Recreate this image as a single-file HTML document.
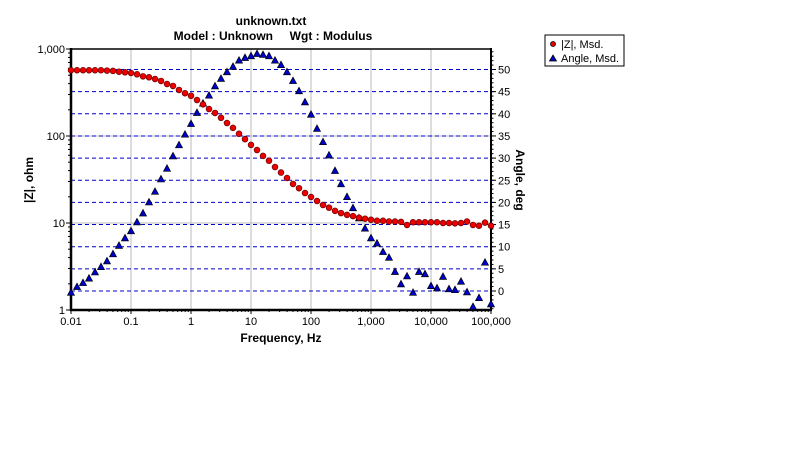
<!DOCTYPE html>
<html><head><meta charset="utf-8"><style>
body{margin:0;background:#fff;width:806px;height:449px;overflow:hidden}
svg{font-family:"Liberation Sans",Arial,sans-serif}
</style></head><body>
<svg id="chart" width="806" height="449" viewBox="0 0 806 449">
<text x="271" y="25" text-anchor="middle" font-size="12" font-weight="bold">unknown.txt</text>
<text x="273" y="40" text-anchor="middle" font-size="12" font-weight="bold" xml:space="preserve">Model : Unknown     Wgt : Modulus</text>
<g id="grid"></g><g id="axes"></g><g id="marks"></g>
<text x="281" y="342" text-anchor="middle" font-size="12" font-weight="bold">Frequency,  Hz</text>
<text transform="translate(33,180) rotate(-90)" text-anchor="middle" font-size="12" font-weight="bold">|Z|, ohm</text>
<text transform="translate(516,180) rotate(90)" text-anchor="middle" font-size="12" font-weight="bold">Angle,  deg</text>
<g>
<rect x="545" y="35" width="79" height="31" fill="#fff" stroke="#000" stroke-width="1"/>
<circle cx="553" cy="44" r="2.5" fill="#e00" stroke="#000" stroke-width="0.8"/>
<text x="561" y="48" font-size="11">|Z|,  Msd.</text>
<polygon points="549.5,61 553,55 556.5,61" fill="#00c" stroke="#000" stroke-width="0.8"/>
<text x="561" y="62" font-size="11">Angle,  Msd.</text>
</g>
</svg>
<script>
const freqExpStart = -2;
const pointsPerDecade = 10;
const zMod = [570,570,570,570,570,570,565,560,548,540,530,512,485,473,452,429,396,376,338,310,290,259,231,204,184,162,141,124,106,92,79,69,59,52,44,38,32.9,28.1,25.1,22.1,19.9,17.9,16.1,15.0,13.8,13.0,12.4,12.0,11.5,11.2,10.9,10.6,10.6,10.4,10.4,10.3,9.5,10.2,10.2,10.2,10.2,10.2,10.0,10.0,9.9,10.0,10.4,9.5,9.3,10.1,9.3];
const angle = [-0.3,1.0,1.9,2.9,4.3,5.5,6.8,8.4,10.3,12.0,13.6,15.6,17.6,20.1,22.5,25.3,27.7,30.5,33.0,35.4,37.8,40.3,42.4,44.2,46.3,48.0,49.5,50.7,52.1,52.7,53.1,53.6,53.4,53.1,52.1,51.1,49.5,47.5,45.2,42.7,39.9,36.7,33.7,30.7,27.2,24.2,21.3,18.8,16.5,14.2,12.0,10.8,8.9,7.6,4.4,1.6,3.4,-0.3,4.4,3.9,1.2,0.7,3.3,0.5,0.3,2.2,-0.2,-3.5,-1.5,6.5,-2.9];
const xTickLabels = ["0.01","0.1","1","10","100","1,000","10,000","100,000"];
const yTickLabels = ["1","10","100","1,000"];
const angleTicks = [0,5,10,15,20,25,30,35,40,45,50];

const L=71,R=491,T=49,B=310;
const NS="http://www.w3.org/2000/svg";
function X(logf){return L+(logf-(-2))*60;}
function Y(z){return B-Math.log10(z)*87;}
function YA(a){return 291-a*4.43;}
function mk(tag,attrs,parent,txt){const e=document.createElementNS(NS,tag);for(const k in attrs)e.setAttribute(k,attrs[k]);if(txt!==undefined)e.textContent=txt;parent.appendChild(e);return e;}
const grid=document.getElementById('grid'),axes=document.getElementById('axes'),marks=document.getElementById('marks');

xTickLabels.forEach((lab,i)=>{
  const x=X(-2+i);
  if(i>0&&i<7){const g=mk('line',{x1:x,x2:x,y1:T,y2:B,stroke:'#bbb','stroke-width':1},grid);
  
  }
  const t=mk('text',{x:x,y:B+15,'text-anchor':'middle','font-size':11},axes,lab);
  
  
  mk('line',{x1:x,x2:x,y1:B,y2:B+4,stroke:'#000'},axes);
  if(i<7)for(let m=2;m<10;m++){const xm=x+Math.log10(m)*60;mk('line',{x1:xm,x2:xm,y1:B,y2:B+2,stroke:'#000'},axes);}
});
yTickLabels.forEach((lab,i)=>{
  const y=Y(Math.pow(10,i));
  if(i>0&&i<3){const g=mk('line',{x1:L,x2:R,y1:y,y2:y,stroke:'#bbb','stroke-width':1},grid);
  
  }
  const t=mk('text',{x:L-6,y:y+4,'text-anchor':'end','font-size':11},axes,lab);
  
  
  mk('line',{x1:L-5,x2:L,y1:y,y2:y,stroke:'#000'},axes);
  if(i<3)for(let m=2;m<10;m++){const ym=y-Math.log10(m)*87;mk('line',{x1:L-3,x2:L,y1:ym,y2:ym,stroke:'#000'},axes);}
});
angleTicks.forEach(a=>{
  const y=YA(a);
  const g=mk('line',{x1:L,x2:R,y1:y,y2:y,stroke:'#00c','stroke-width':1,'stroke-dasharray':'4,3'},grid);
  
  
  mk('line',{x1:R,x2:R+5,y1:y,y2:y,stroke:'#000'},axes);
  const t=mk('text',{x:R+7,y:y+4,'font-size':11},axes,String(a));
  
  
});
for(let a=-4;a<=54;a++){const y=YA(a);mk('line',{x1:R,x2:R+2.5,y1:y,y2:y,stroke:'#000'},axes);}
mk('line',{x1:L,x2:R,y1:T,y2:T,stroke:'#000','stroke-width':1.5},axes);
mk('line',{x1:L,x2:L,y1:T-1,y2:B+1,stroke:'#000','stroke-width':2.5},axes);
mk('line',{x1:L-1,x2:R,y1:B,y2:B,stroke:'#000','stroke-width':2.5},axes);
mk('line',{x1:R,x2:R,y1:T-1,y2:B+1,stroke:'#000','stroke-width':2},axes);

angle.forEach((a,i)=>{
  const x=X(freqExpStart+i/pointsPerDecade),y=YA(a);
  const p=mk('polygon',{points:`${x-3.5},${y+3} ${x},${y-3.5} ${x+3.5},${y+3}`,fill:'#00c',stroke:'#000','stroke-width':0.7},marks);
  
  
});
zMod.forEach((z,i)=>{
  const x=X(freqExpStart+i/pointsPerDecade),y=Y(z);
  const c=mk('circle',{cx:x,cy:y,r:2.9,fill:'#e00',stroke:'#600','stroke-width':0.7},marks);
  
  
});
</script>
</body></html>
